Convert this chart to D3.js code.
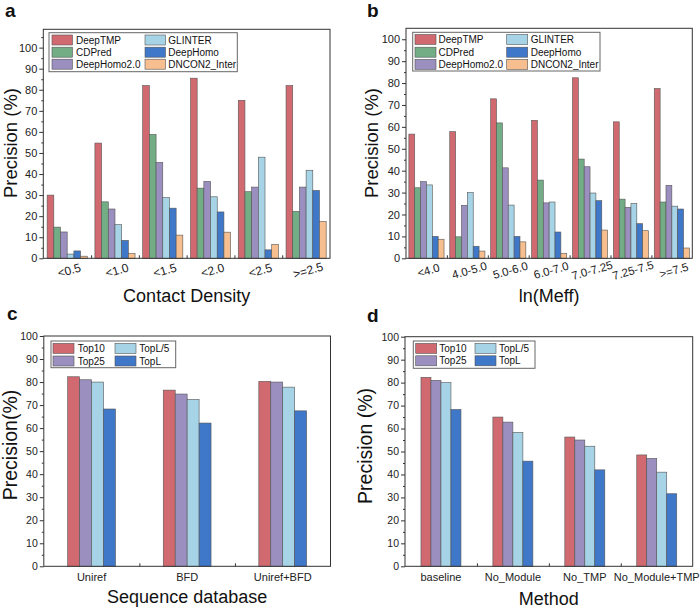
<!DOCTYPE html>
<html>
<head>
<meta charset="utf-8">
<script src="https://cdn.jsdelivr.net/npm/d3@7"></script>
<style>
  body { margin: 0; background: #fff; }
  svg { display: block; font-family: "Liberation Sans", Arial, sans-serif; }
</style>
</head>
<body>
<script>
// panel a / b series
const toolNames = ['DeepTMP', 'CDPred', 'DeepHomo2.0', 'GLINTER', 'DeepHomo', 'DNCON2_Inter']
const toolColors = ['#d16a70', '#73ad85', '#9b8fbf', '#a6d4e6', '#3f77c9', '#f7bf8f']

// a: contact density
const densityCats = ['<0.5', '<1.0', '<1.5', '<2.0', '<2.5', '>=2.5']
const densityValues = [
  [30.0, 54.7, 82.0, 85.5, 75.0, 82.0],   // DeepTMP
  [14.8, 26.8, 58.8, 33.3, 31.6, 22.3],   // CDPred
  [12.5, 23.4, 45.5, 36.5, 33.8, 33.8],   // DeepHomo2.0
  [2.0, 16.0, 28.8, 29.2, 48.0, 41.8],    // GLINTER
  [3.5, 8.5, 23.8, 22.0, 4.0, 32.2],      // DeepHomo
  [1.0, 2.2, 11.0, 12.4, 6.6, 17.4]       // DNCON2_Inter
]

// b: ln(Meff)
const meffCats = ['<4.0', '4.0-5.0', '5.0-6.0', '6.0-7.0', '7.0-7.25', '7.25-7.5', '>=7.5']
const meffValues = [
  [56.7, 57.8, 72.8, 63.0, 82.4, 62.3, 77.5],
  [32.2, 9.8, 61.8, 35.7, 45.3, 27.0, 25.7],
  [35.0, 24.2, 41.3, 25.3, 41.8, 23.3, 33.3],
  [33.5, 30.0, 24.3, 25.7, 29.8, 25.0, 23.8],
  [10.0, 5.5, 10.0, 12.0, 26.3, 15.8, 22.5],
  [8.7, 3.3, 7.5, 2.3, 12.9, 12.6, 4.7]
]

// panel c / d series
const topNames = ['Top10', 'Top25', 'TopL/5', 'TopL']
const topColors = ['#d16a70', '#9b8fbf', '#a6d4e6', '#3f77c9']

// c: sequence database
const dbCats = ['Uniref', 'BFD', 'Uniref+BFD']
const dbValues = [
  [82.3, 76.5, 80.3],
  [81.0, 74.8, 80.0],
  [80.0, 72.5, 77.8],
  [68.3, 62.2, 67.5]
]

// d: method ablation
const methodCats = ['baseline', 'No_Module', 'No_TMP', 'No_Module+TMP']
const methodValues = [
  [82.3, 65.0, 56.3, 48.5],
  [81.0, 62.8, 55.0, 47.0],
  [80.0, 58.3, 52.3, 41.0],
  [68.3, 45.8, 42.0, 31.6]
]

const yTickLabels = d3.range(0, 101, 10)

var svg = d3.select('body').append('svg')
  .attr('width', 700)
  .attr('height', 609)

function drawPanel(cfg) {
  const g = svg.append('g')

  const x = d3.scaleBand().domain(cfg.cats).range([cfg.left, cfg.right]).padding(0)
  const groupW = x.bandwidth() * cfg.groupFrac
  const xs = d3.scaleBand().domain(cfg.series).range([0, groupW]).padding(0)
  const y = d3.scaleLinear().domain([0, cfg.yMax]).range([cfg.bottom, cfg.top])

  // bars
  cfg.series.forEach((s, i) => {
    g.append('g').selectAll('rect')
      .data(cfg.cats.map((c, j) => ({ cat: c, v: cfg.values[i][j] })))
      .join('rect')
      .attr('x', d => x(d.cat) + (x.bandwidth() - groupW) / 2 + xs(s))
      .attr('y', d => y(d.v))
      .attr('width', xs.bandwidth())
      .attr('height', d => cfg.bottom - y(d.v))
      .attr('fill', cfg.colors[i])
      .attr('stroke', '#555')
      .attr('stroke-width', 0.6)
  })

  // frame
  g.append('rect')
    .attr('x', cfg.left).attr('y', cfg.top)
    .attr('width', cfg.right - cfg.left).attr('height', cfg.bottom - cfg.top)
    .attr('fill', 'none').attr('stroke', '#333').attr('stroke-width', 1)

  // y axis, major + minor
  const yAxis = g.append('g')
    .attr('transform', `translate(${cfg.left},0)`)
    .call(d3.axisLeft(y).tickValues(yTickLabels).tickSize(4).tickPadding(2).tickFormat(d3.format('d')))
  yAxis.select('.domain').remove()
  yAxis.selectAll('text').attr('font-size', cfg.yTickFont).attr('fill', '#222').attr('font-family', null)
  yAxis.selectAll('line').attr('stroke', '#333')

  const minor = g.append('g')
    .attr('transform', `translate(${cfg.left},0)`)
    .call(d3.axisLeft(y).tickValues(d3.range(5, cfg.yMax, 10)).tickSize(2).tickFormat(''))
  minor.select('.domain').remove()
  minor.selectAll('line').attr('stroke', '#333')

  // category boundary ticks on bottom
  const xb = d3.scaleLinear().domain([0, cfg.cats.length]).range([cfg.left, cfg.right])
  const bt = g.append('g')
    .attr('transform', `translate(0,${cfg.bottom})`)
    .call(d3.axisBottom(xb).tickValues(d3.range(1, cfg.cats.length)).tickSize(-3).tickFormat(''))
  bt.select('.domain').remove()
  bt.selectAll('line').attr('stroke', '#333')

  // category labels
  const xl = g.append('g')
    .attr('transform', `translate(0,${cfg.bottom})`)
    .call(d3.axisBottom(x).tickSize(0))
  xl.select('.domain').remove()
  const lab = xl.selectAll('text')
    .attr('font-size', cfg.xTickFont).attr('fill', '#222').attr('font-family', null)
  if (cfg.rotate) {
    lab.attr('y', 0).attr('dy', '0.35em').attr('text-anchor', 'middle')
      .attr('transform', `translate(2,12) rotate(${cfg.rotate})`)
  } else {
    lab.attr('y', 0).attr('dy', 0).attr('transform', 'translate(0,14.5)')
  }

  // axis titles
  g.append('text')
    .attr('x', (cfg.left + cfg.right) / 2).attr('y', cfg.xTitleY)
    .attr('text-anchor', 'middle').attr('font-size', 18).attr('fill', '#111')
    .text(cfg.xTitle)
  g.append('text')
    .attr('transform', `translate(${cfg.yTitleX},${cfg.yTitleCY}) rotate(-90)`)
    .attr('text-anchor', 'middle').attr('font-size', cfg.yTitleFont).attr('fill', '#111')
    .text(cfg.yTitle)

  // panel letter
  g.append('text')
    .attr('x', cfg.letterX).attr('y', cfg.letterY)
    .attr('font-size', 19).attr('font-weight', 'bold').attr('fill', '#111')
    .text(cfg.letter)

  // legend (filled column by column)
  const L = cfg.legend
  const lg = g.append('g')
  lg.append('rect')
    .attr('x', L.x0).attr('y', L.y0).attr('width', L.x1 - L.x0).attr('height', L.y1 - L.y0)
    .attr('fill', '#fff').attr('stroke', '#666').attr('stroke-width', 1)
  cfg.series.forEach((s, i) => {
    const col = Math.floor(i / L.rows.length)
    const row = i % L.rows.length
    const cy = L.rows[row]
    lg.append('rect')
      .attr('x', L.swX[col]).attr('y', cy - 5)
      .attr('width', L.swW).attr('height', 10)
      .attr('fill', cfg.colors[i]).attr('stroke', '#555').attr('stroke-width', 0.6)
    lg.append('text')
      .attr('x', L.txX[col]).attr('y', cy).attr('dy', '0.35em')
      .attr('font-size', 10).attr('fill', '#111')
      .text(s)
  })
}

drawPanel({
  letter: 'a', letterX: 5, letterY: 17,
  cats: densityCats, series: toolNames, values: densityValues, colors: toolColors,
  left: 43.3, right: 330, top: 29.3, bottom: 258.3, yMax: 108.7, groupFrac: 0.84,
  yTickFont: 11, xTickFont: 12, rotate: -16,
  xTitle: 'Contact Density', xTitleY: 302, yTitle: 'Precision (%)', yTitleX: 17, yTitleCY: 143, yTitleFont: 18.5,
  legend: { x0: 49, x1: 237.3, y0: 32.7, y1: 71.7, rows: [40, 52.2, 64.2], swX: [52, 145], swW: 20.5, txX: [76, 168.3] }
})

drawPanel({
  letter: 'b', letterX: 367, letterY: 17,
  cats: meffCats, series: toolNames, values: meffValues, colors: toolColors,
  left: 406, right: 692.3, top: 28.3, bottom: 258.3, yMax: 105, groupFrac: 0.86,
  yTickFont: 11, xTickFont: 11.5, rotate: -16,
  xTitle: 'ln(Meff)', xTitleY: 302, yTitle: 'Precision (%)', yTitleX: 378, yTitleCY: 143, yTitleFont: 18.5,
  legend: { x0: 412.7, x1: 600, y0: 32.3, y1: 71, rows: [39.5, 52.2, 64.4], swX: [415, 506.7], swW: 21, txX: [438.5, 530.7] }
})

drawPanel({
  letter: 'c', letterX: 7, letterY: 320,
  cats: dbCats, series: topNames, values: dbValues, colors: topColors,
  left: 43.8, right: 330.5, top: 336, bottom: 566.3, yMax: 100, groupFrac: 0.5,
  yTickFont: 10.5, xTickFont: 11, rotate: 0,
  xTitle: 'Sequence database', xTitleY: 603, yTitle: 'Precision(%)', yTitleX: 17, yTitleCY: 445, yTitleFont: 19.5,
  legend: { x0: 51, x1: 175.7, y0: 341, y1: 367.7, rows: [348.4, 361], swX: [53, 115], swW: 21, txX: [77.7, 139.3] }
})

drawPanel({
  letter: 'd', letterX: 367, letterY: 321.5,
  cats: methodCats, series: topNames, values: methodValues, colors: topColors,
  left: 405, right: 692.7, top: 336.7, bottom: 566.3, yMax: 100, groupFrac: 0.556,
  yTickFont: 10.5, xTickFont: 11, rotate: 0,
  xTitle: 'Method', xTitleY: 604.5, yTitle: 'Precision (%)', yTitleX: 372, yTitleCY: 446, yTitleFont: 19.5,
  legend: { x0: 413.3, x1: 535, y0: 341, y1: 368.3, rows: [348.4, 360.8], swX: [415.7, 475], swW: 21, txX: [439.3, 499] }
})
</script>
</body>
</html>
